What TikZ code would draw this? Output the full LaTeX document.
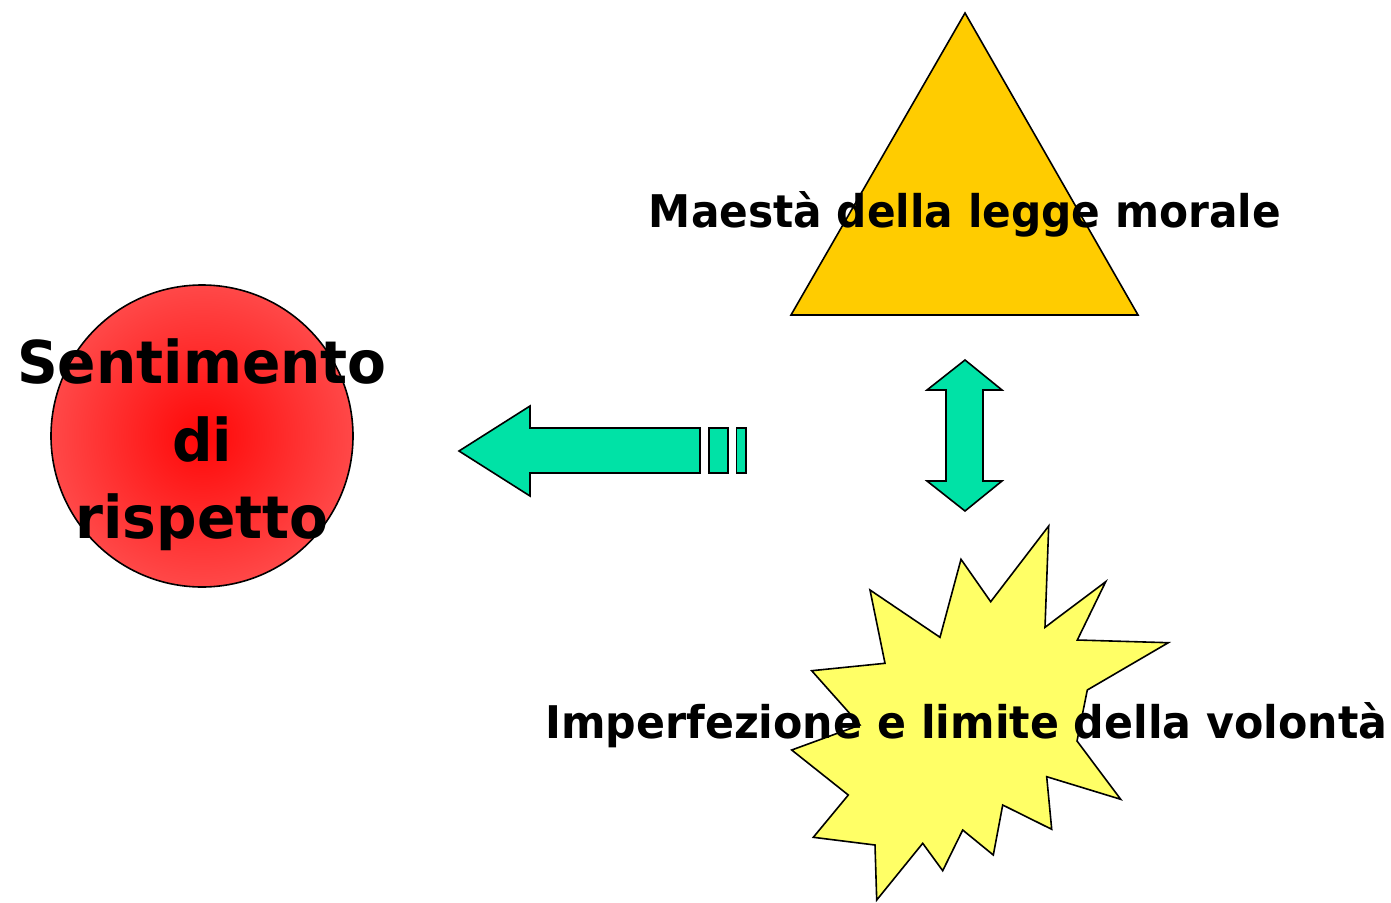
\documentclass[tikz,border=0pt]{standalone}
\usepackage{fontspec}
\setmainfont{DejaVu Sans}
\definecolor{tri}{RGB}{255,204,0}
\definecolor{burst}{RGB}{255,255,102}
\definecolor{teal}{RGB}{0,226,166}
\definecolor{redin}{RGB}{255,8,8}
\definecolor{redout}{RGB}{255,72,72}
\tikzset{
  shapeline/.style={draw=black,line width=1.6pt,line join=miter},
  bigtxt/.style={anchor=base,inner sep=0pt,font=\bfseries\fontsize{45}{54}\selectfont},
  circtxt/.style={anchor=base,inner sep=0pt,font=\bfseries\fontsize{59}{70}\selectfont}
}
\begin{document}
\begin{tikzpicture}[x=1pt,y=-1pt]
\useasboundingbox (0,0) rectangle (1391,902);
% triangle
\draw[shapeline,fill=tri] (965,13) -- (1138,315) -- (791,315) -- cycle;
\node[bigtxt] (maesta) at (965,227) {\scalebox{0.94}[1]{Maestà della legge morale}};
% starburst
\draw[shapeline,fill=burst] (1048.7,526) -- (1045,627.3) -- (1105.7,581.7) -- (1077.3,640) -- (1168.3,642.7) -- (1087.3,690) -- (1077,741) -- (1120.7,799.3) -- (1046.7,776.7) -- (1051.7,829.3) -- (1002.7,805) -- (993.3,855) -- (962.7,830) -- (942.7,870.7) -- (922.7,843.3) -- (876.7,900) -- (875,845) -- (813.3,837.3) -- (848.3,795) -- (791.7,750) -- (860,725) -- (811.7,670.7) -- (885,663.3) -- (870,590) -- (940,637.3) -- (961,559.3) -- (990.7,601.7) -- cycle;
\node[bigtxt] (imperf) at (966.5,738) {\scalebox{0.95}[1]{Imperfezione e limite della volontà}};
% circle
\shade[inner color=redin,outer color=redout] (202,436) circle[radius=151];
\draw[shapeline] (202,436) circle[radius=151];
\node[circtxt] (sent) at (202,383) {\scalebox{0.96}[1]{Sentimento}};
\node[circtxt] (di) at (202,461) {\scalebox{0.96}[1]{di}};
\node[circtxt] (risp) at (202,538) {\scalebox{0.96}[1]{rispetto}};
% left arrow
\draw[shapeline,fill=teal] (459,451) -- (530,406) -- (530,428) -- (700,428) -- (700,473) -- (530,473) -- (530,496) -- cycle;
\draw[shapeline,fill=teal] (709,428) rectangle (728,473);
\draw[shapeline,fill=teal] (736.5,428) rectangle (746,473);
% double arrow
\draw[shapeline,fill=teal] (965,360) -- (1002,390) -- (983,390) -- (983,481) -- (1002,481) -- (965,511) -- (927,481) -- (946,481) -- (946,390) -- (927,390) -- cycle;
\end{tikzpicture}
\end{document}
